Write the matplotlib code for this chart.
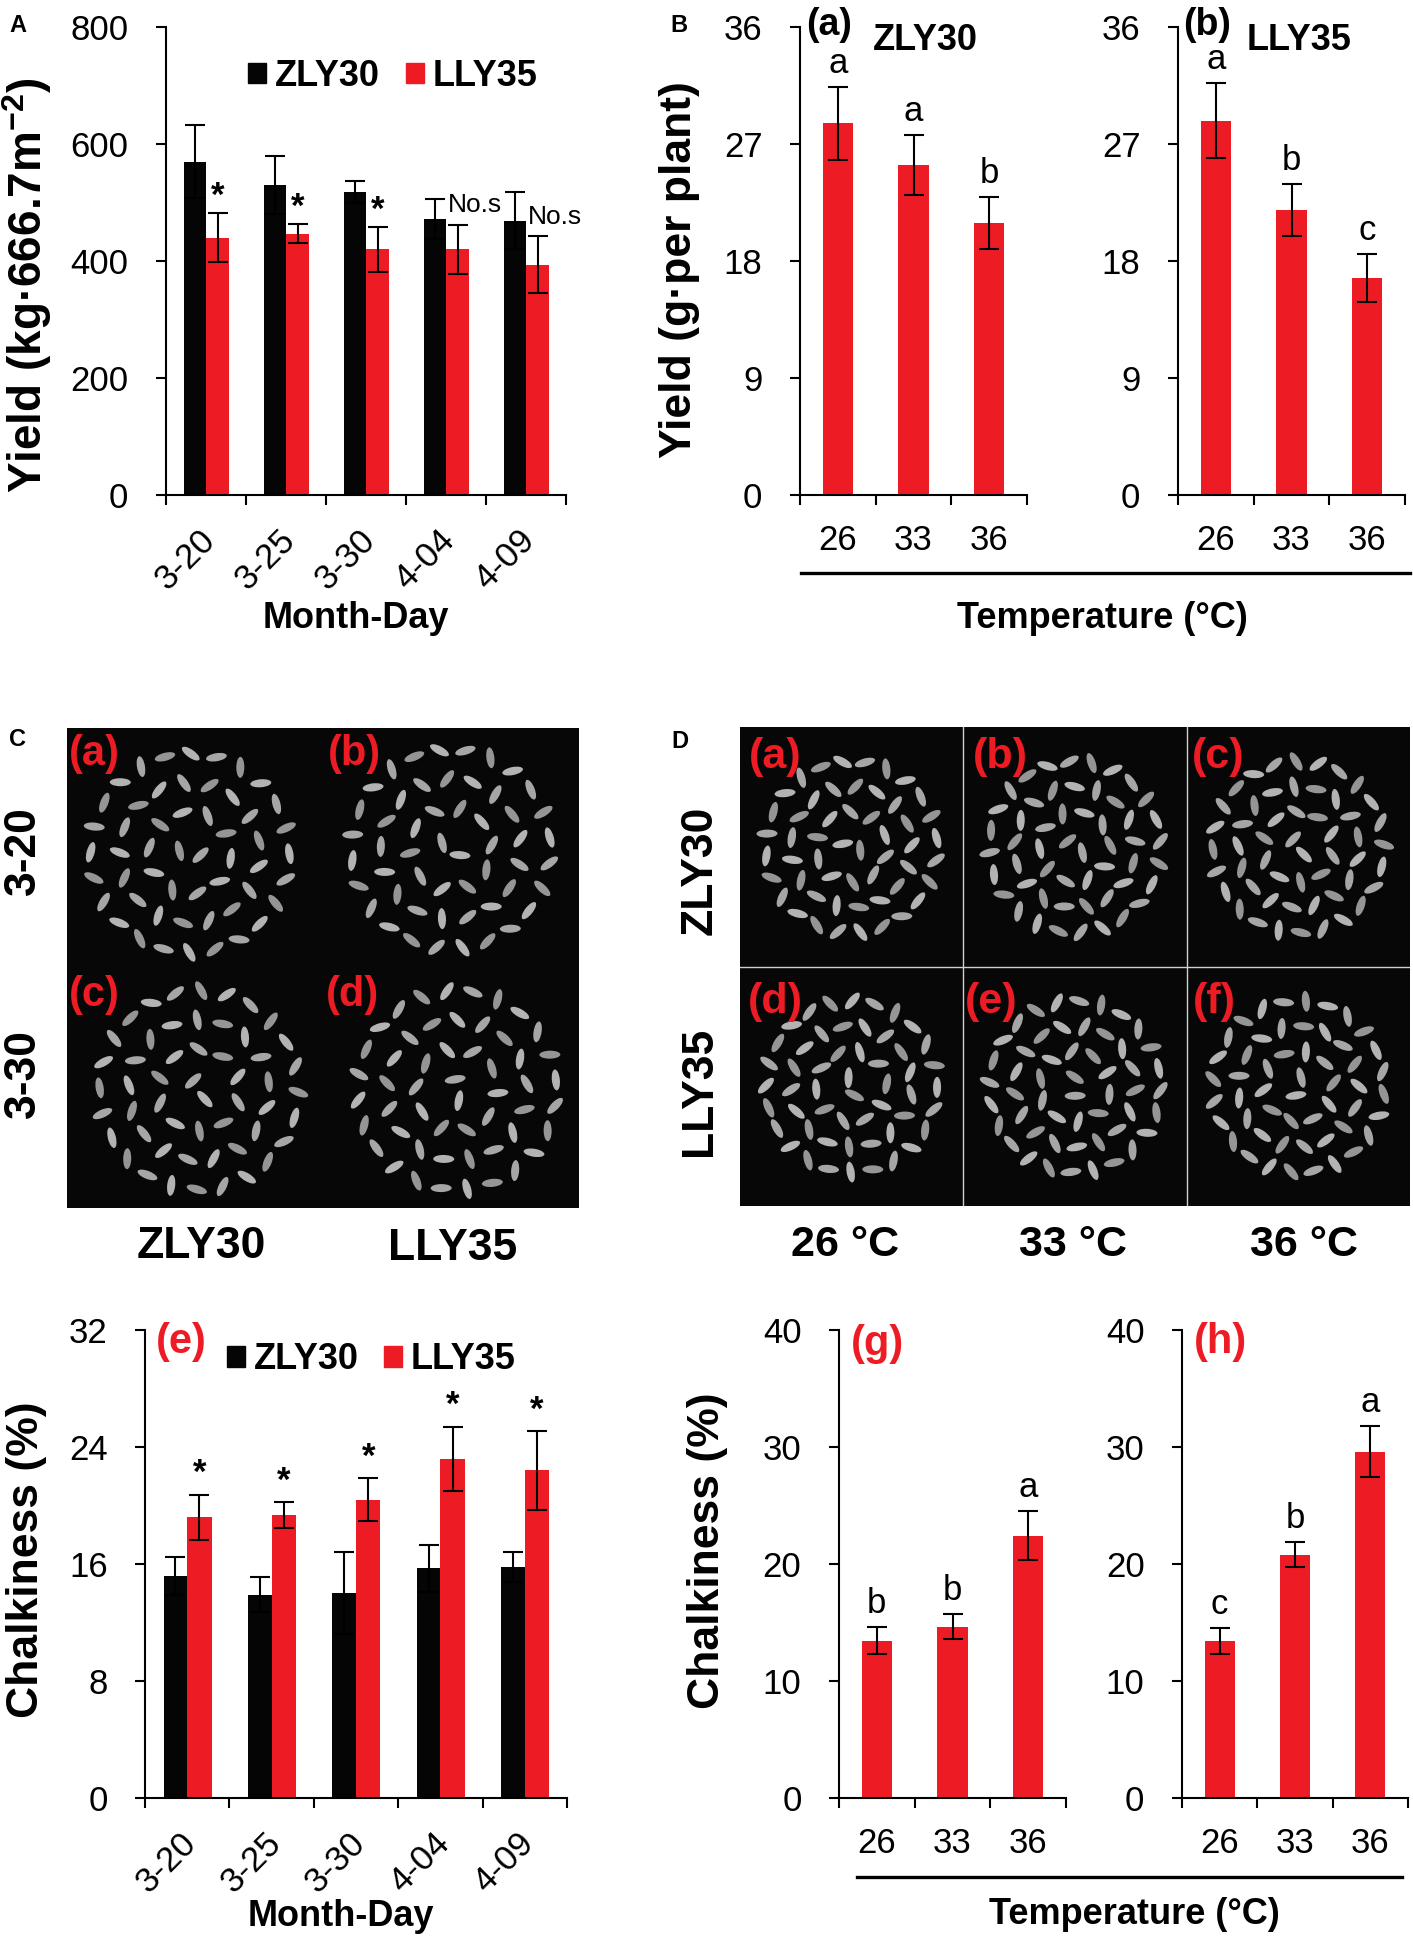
import matplotlib
matplotlib.use('Agg')
import matplotlib.pyplot as plt
import matplotlib.transforms as mtransforms
import numpy as np
from matplotlib.patches import Patch, Ellipse
from matplotlib.lines import Line2D

# colours
RED = '#ED1C24'
BLACK = '#050505'
GRAIN = ['#a6a6a6', '#959595', '#b3b3b3']

W, H = 1413, 1938

plt.rcParams['font.family'] = ['Liberation Sans', 'DejaVu Sans']
plt.rcParams['mathtext.fontset'] = 'custom'
plt.rcParams['mathtext.rm'] = 'Liberation Sans'
plt.rcParams['mathtext.bf'] = 'Liberation Sans:bold'
plt.rcParams['axes.linewidth'] = 1.5

# ---- data ----
dates = ['3-20', '3-25', '3-30', '4-04', '4-09']
temps = ['26', '33', '36']

# A: field yield (kg per 666.7 m2)
yield_zly = [570, 530, 518, 472, 469]
yield_zly_err = [63, 50, 18, 34, 49]
yield_lly = [440, 447, 420, 420, 394]
yield_lly_err = [42, 16, 38, 42, 48]
yield_marks = ['*', '*', '*', 'No.s', 'No.s']

# B: pot yield (g per plant)
plant_yield_zly = [28.6, 25.4, 20.9]
plant_yield_zly_err = [2.8, 2.3, 2.0]
plant_yield_zly_letters = ['a', 'a', 'b']
plant_yield_lly = [28.8, 21.9, 16.7]
plant_yield_lly_err = [2.9, 2.0, 1.85]
plant_yield_lly_letters = ['a', 'b', 'c']

# E: chalkiness by sowing date (%)
chalk_zly = [15.2, 13.9, 14.0, 15.7, 15.8]
chalk_zly_err = [1.3, 1.2, 2.8, 1.6, 1.0]
chalk_lly = [19.2, 19.35, 20.4, 23.2, 22.4]
chalk_lly_err = [1.55, 0.9, 1.45, 2.2, 2.7]
chalk_marks = ['*', '*', '*', '*', '*']

# G/H: chalkiness by temperature (%)
temp_chalk_zly = [13.45, 14.65, 22.4]
temp_chalk_zly_err = [1.13, 1.1, 2.1]
temp_chalk_zly_letters = ['b', 'b', 'a']
temp_chalk_lly = [13.4, 20.8, 29.6]
temp_chalk_lly_err = [1.13, 1.05, 2.2]
temp_chalk_lly_letters = ['c', 'b', 'a']

TILT = [0, 35, -25, 60, -50, 15, 80, -10, 45, -70]

fig = plt.figure(figsize=(W / 100, H / 100), dpi=100)


def px_axes(x0, y0, x1, y1):
    return fig.add_axes([x0 / W, 1 - y1 / H, (x1 - x0) / W, (y1 - y0) / H])


def ftext(x, y, s, **kw):
    kw.setdefault('ha', 'center')
    kw.setdefault('va', 'center')
    fig.text(x / W, 1 - y / H, s, **kw)


def style_axes(ax, n, ymax, step):
    ax.set_xlim(-0.5, n - 0.5)
    ax.set_ylim(0, ymax)
    ax.set_yticks(np.arange(0, ymax + 0.1, step))
    ax.set_xticks(np.arange(n + 1) - 0.5)
    ax.set_xticklabels([])
    ax.tick_params(axis='both', direction='out', length=7, width=1.5,
                   labelsize=25)
    ax.tick_params(axis='y', pad=20)
    ax.spines['top'].set_visible(False)
    ax.spines['right'].set_visible(False)


def rotated_labels(ax, labels):
    trans = mtransforms.blended_transform_factory(ax.transData, ax.transAxes)
    for i, lab in enumerate(labels):
        ax.text(i + 0.05, -0.085, lab, transform=trans, rotation=45,
                ha='right', va='center', rotation_mode='anchor', fontsize=25)


def temp_labels(ax, labels):
    trans = mtransforms.blended_transform_factory(ax.transData, ax.transAxes)
    for i, lab in enumerate(labels):
        ax.text(i, -0.098, lab, transform=trans, ha='center', va='center',
                fontsize=25)


ERR = dict(ecolor='black', elinewidth=1.5, capsize=7.5, capthick=1.5)


def paired_bars(ax, zly, zly_err, lly, lly_err):
    x = np.arange(len(zly))
    ax.bar(x - 0.14, zly, 0.28, color=BLACK, yerr=zly_err, error_kw=ERR)
    ax.bar(x + 0.145, lly, 0.29, color=RED, yerr=lly_err, error_kw=ERR)
    return x + 0.145


def single_bars(ax, vals, errs, letters):
    x = np.arange(len(vals))
    ax.bar(x, vals, 0.4, color=RED, yerr=errs, error_kw=ERR)
    for xi, v, e, lab in zip(x, vals, errs, letters):
        ax.annotate(lab, (xi, v + e), xytext=(0, 5), textcoords='offset points',
                    ha='center', va='bottom', fontsize=25)


def group_legend(ax, x, y):
    handles = [Patch(color=BLACK, label='ZLY30'), Patch(color=RED, label='LLY35')]
    ax.legend(handles=handles, loc='center', bbox_to_anchor=(x, y), ncol=2,
              frameon=False, handlelength=0.5, handleheight=0.5,
              handletextpad=0.25, columnspacing=0.7,
              prop={'weight': 'bold', 'size': 26})


def draw_dish(ax, cx, cy, r, shift):
    rings = [(0.92, 24), (0.65, 17), (0.38, 10), (0.1, 2)]
    k = int(shift * 7)
    for frac, n in rings:
        for j in range(n):
            ang = 2 * np.pi * j / n + shift + frac * 2
            gx = cx + frac * r * np.cos(ang)
            gy = cy + frac * r * np.sin(ang)
            tilt = TILT[k % len(TILT)]
            ax.add_patch(Ellipse((gx, gy), 21, 8, angle=np.degrees(ang) + 90 + tilt,
                                 color=GRAIN[k % 3], lw=0))
            k += 1


def photo_axes(x0, y0, x1, y1):
    ax = px_axes(x0, y0, x1, y1)
    ax.set_xlim(0, x1 - x0)
    ax.set_ylim(y1 - y0, 0)
    ax.set_facecolor('#070707')
    ax.set_xticks([])
    ax.set_yticks([])
    for s in ax.spines.values():
        s.set_visible(False)
    return ax


# ---- A: yield by sowing date ----
axA = px_axes(166, 27, 566, 495)
style_axes(axA, 5, 800, 200)
xr = paired_bars(axA, yield_zly, yield_zly_err, yield_lly, yield_lly_err)
for xi, v, e, m in zip(xr, yield_lly, yield_lly_err, yield_marks):
    if m == '*':
        axA.text(xi, v + e, m, ha='center', va='bottom', fontsize=25, fontweight='bold')
    else:
        axA.text(xi + 0.22, v + e + 34, m, ha='center', va='center', fontsize=19)
rotated_labels(axA, dates)
group_legend(axA, 0.567, 0.895)
ftext(27, 285, 'Yield (kg·666.7m$^{\\mathbf{-2}}$)', rotation=90, fontsize=33,
      fontweight='bold')
ftext(356, 618, 'Month-Day', fontsize=26, fontweight='bold')
ftext(18, 25, 'A', fontsize=17, fontweight='bold')

# ---- B: yield by temperature ----
axBa = px_axes(800, 27, 1027, 495)
style_axes(axBa, 3, 36, 9)
single_bars(axBa, plant_yield_zly, plant_yield_zly_err, plant_yield_zly_letters)
temp_labels(axBa, temps)

axBb = px_axes(1178, 27, 1405, 495)
style_axes(axBb, 3, 36, 9)
single_bars(axBb, plant_yield_lly, plant_yield_lly_err, plant_yield_lly_letters)
temp_labels(axBb, temps)

ftext(829, 25, '(a)', fontsize=27, fontweight='bold')
ftext(925, 41, 'ZLY30', fontsize=26, fontweight='bold')
ftext(1207, 25, '(b)', fontsize=27, fontweight='bold')
ftext(1299, 41, 'LLY35', fontsize=26, fontweight='bold')
ftext(680, 270, 'Yield (g·per plant)', rotation=90, fontsize=32, fontweight='bold')
fig.add_artist(Line2D([801 / W, 1410 / W], [1 - 573 / H] * 2, color='black', lw=2.4))
ftext(1102, 618, 'Temperature (°C)', fontsize=26, fontweight='bold')
ftext(679, 25, 'B', fontsize=17, fontweight='bold')

# ---- C: grain photos by sowing date ----
axC = photo_axes(67, 728, 579, 1208)
for (cx, cy), sh in zip([(123, 125), (384, 121), (132, 362), (390, 362)],
                        [0.0, 0.4, 0.8, 1.2]):
    draw_dish(axC, cx, cy, 108, sh)
for (x, y), lab in zip([(94, 754), (354, 754), (94, 995), (353, 995)],
                       ['(a)', '(b)', '(c)', '(d)']):
    ftext(x, y, lab, fontsize=30, fontweight='bold', color=RED)
ftext(23, 851, '3-20', rotation=90, fontsize=32, fontweight='bold')
ftext(23, 1073, '3-30', rotation=90, fontsize=32, fontweight='bold')
ftext(201, 1247, 'ZLY30', fontsize=32, fontweight='bold')
ftext(453, 1249, 'LLY35', fontsize=32, fontweight='bold')
ftext(18, 740, 'C', fontsize=17, fontweight='bold')

# ---- D: grain photos by temperature ----
axD = photo_axes(740, 727, 1410, 1206)
cols = [0, 223, 447, 670]
rows = [0, 240, 479]
k = 0
for r in range(2):
    for c in range(3):
        cx = (cols[c] + cols[c + 1]) / 2
        cy = (rows[r] + rows[r + 1]) / 2
        draw_dish(axD, cx, cy, 93, 0.3 * k + 0.15)
        k += 1
for c in cols[1:-1]:
    axD.axvline(c, color='#cfcfcf', lw=1)
axD.axhline(rows[1], color='#cfcfcf', lw=1)
for (x, y), lab in zip([(775, 757), (1000, 757), (1218, 757),
                        (775, 1002), (991, 1002), (1214, 1002)],
                       ['(a)', '(b)', '(c)', '(d)', '(e)', '(f)']):
    ftext(x, y, lab, fontsize=31, fontweight='bold', color=RED)
ftext(700, 870, 'ZLY30', rotation=90, fontsize=32, fontweight='bold')
ftext(700, 1091, 'LLY35', rotation=90, fontsize=32, fontweight='bold')
for x, t in zip([845, 1073, 1304], temps):
    ftext(x, 1245, t + ' °C', fontsize=31, fontweight='bold')
ftext(680, 742, 'D', fontsize=17, fontweight='bold')

# ---- E: chalkiness by sowing date ----
axE = px_axes(145, 1330, 567, 1798)
style_axes(axE, 5, 32, 8)
xr = paired_bars(axE, chalk_zly, chalk_zly_err, chalk_lly, chalk_lly_err)
for xi, v, e, m in zip(xr, chalk_lly, chalk_lly_err, chalk_marks):
    axE.text(xi, v + e + 0.3, m, ha='center', va='bottom', fontsize=25, fontweight='bold')
rotated_labels(axE, dates)
group_legend(axE, 0.536, 0.936)
ftext(181, 1342, '(e)', fontsize=30, fontweight='bold', color=RED)
ftext(27, 1560, 'Chalkiness (%)', rotation=90, fontsize=32, fontweight='bold')
ftext(341, 1916, 'Month-Day', fontsize=26, fontweight='bold')

# ---- G/H: chalkiness by temperature ----
axG = px_axes(839, 1330, 1066, 1798)
style_axes(axG, 3, 40, 10)
single_bars(axG, temp_chalk_zly, temp_chalk_zly_err, temp_chalk_zly_letters)
temp_labels(axG, temps)

axH = px_axes(1182, 1330, 1408, 1798)
style_axes(axH, 3, 40, 10)
single_bars(axH, temp_chalk_lly, temp_chalk_lly_err, temp_chalk_lly_letters)
temp_labels(axH, temps)

ftext(877, 1344, '(g)', fontsize=30, fontweight='bold', color=RED)
ftext(1220, 1342, '(h)', fontsize=30, fontweight='bold', color=RED)
ftext(708, 1551, 'Chalkiness (%)', rotation=90, fontsize=32, fontweight='bold')
fig.add_artist(Line2D([857 / W, 1402 / W], [1 - 1877 / H] * 2, color='black', lw=2.4))
ftext(1134, 1914, 'Temperature (°C)', fontsize=26, fontweight='bold')

fig.savefig('out.png', dpi=100, facecolor='white')
